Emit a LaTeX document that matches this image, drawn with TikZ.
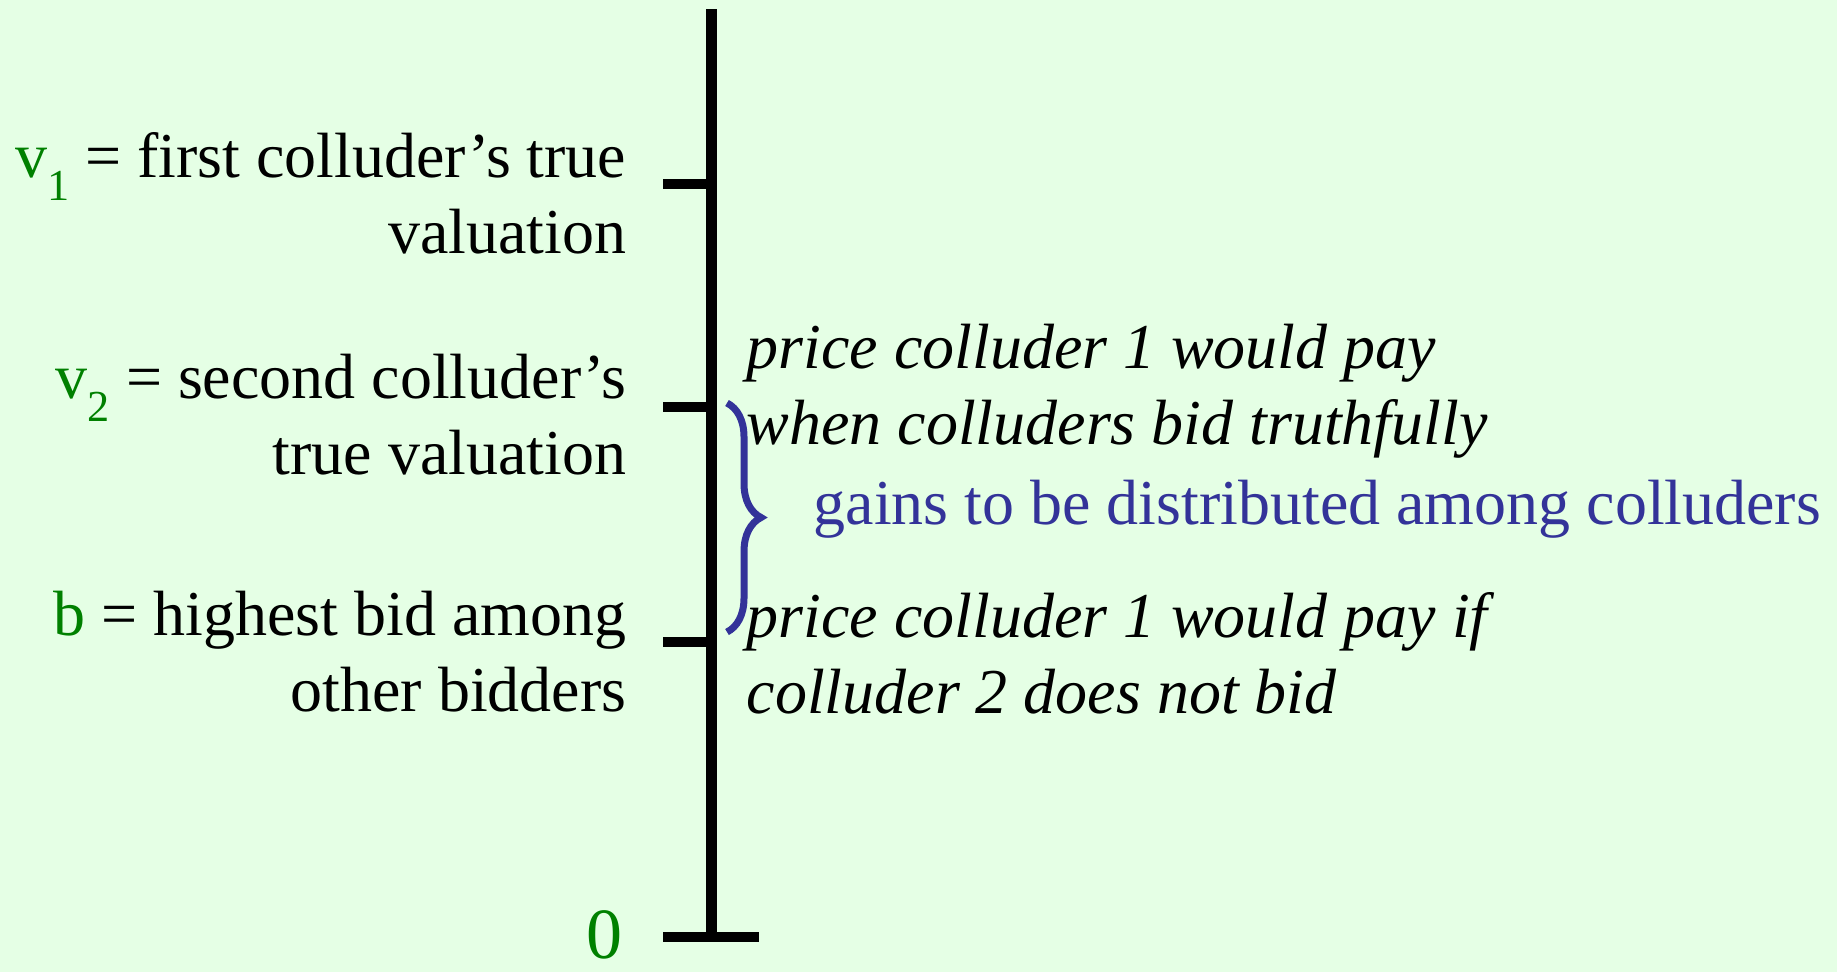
\documentclass[tikz,border=0pt]{standalone}
\usepackage{fontspec}
\setmainfont{Liberation Serif}
\usetikzlibrary{decorations.pathreplacing}
\definecolor{bgfill}{HTML}{E5FFE5}
\definecolor{valgreen}{HTML}{008000}
\definecolor{gainblue}{HTML}{333399}
\tikzset{
  axisline/.style={draw=black, line width=0.11cm},
  tickline/.style={draw=black, line width=0.10cm},
  lbl/.style={font=\fontsize{18.2}{21.6}\selectfont, inner sep=0pt, align=right, anchor=base east},
  ilbl/.style={font=\fontsize{18.2}{21.6}\selectfont\itshape, inner sep=0pt, align=left, anchor=base west},
  gainlbl/.style={font=\fontsize{18.2}{21.6}\selectfont, text=gainblue, inner sep=0pt, anchor=base west},
  zerolbl/.style={font=\fontsize{20.5}{24}\selectfont, text=valgreen, inner sep=0pt, text depth=0pt, anchor=base},
  brc/.style={draw=gainblue, line width=0.07cm, decorate, decoration={brace, amplitude=0.34cm}},
}
\newcommand{\gv}[1]{\textcolor{valgreen}{#1}}
\newcommand{\vsub}[1]{\gv{v\raisebox{-0.36em}{\fontsize{12.6}{13}\selectfont #1}}}

\begin{document}
\begin{tikzpicture}[x=1cm,y=1cm]
  \path[use as bounding box, fill=bgfill] (0,0) rectangle (18.37,-9.72);
  % value axis
  \coordinate (top) at (7.11,-0.09);
  \coordinate (bot) at (7.11,-9.37);
  \coordinate (t1) at (6.63,-1.84);
  \coordinate (t2) at (6.63,-4.065);
  \coordinate (tb) at (6.63,-6.42);
  \coordinate (t0) at (6.63,-9.37);
  \coordinate (t0r) at (7.59,-9.37);
  \draw[axisline] (top) -- (bot);
  \draw[tickline] (t1) -- (t1 -| top);
  \draw[tickline] (t2) -- (t2 -| top);
  \draw[tickline] (tb) -- (tb -| top);
  \draw[tickline] (t0) -- (t0r);
  % left labels (base = last line)
  \node[lbl] (v1) at (6.27,-2.53) {\vsub{1} = first colluder’s true\\valuation};
  \node[lbl] (v2) at (6.27,-4.74) {\vsub{2} = second colluder’s\\true valuation};
  \node[lbl] (bid) at (6.27,-7.11) {\gv{b} = highest bid among\\other bidders};
  \node[zerolbl] (zero) at (6.05,-9.58) {0};
  % right labels
  \node[ilbl] (pay) at (7.46,-4.44) {price colluder 1 would pay\\when colluders bid truthfully};
  \node[ilbl] (payif) at (7.46,-7.13) {price colluder 1 would pay if\\colluder 2 does not bid};
  \node[gainlbl] (gains) at (8.13,-5.24) {gains to be distributed among colluders};
  % brace
  \coordinate (bt) at (7.27,-4.03);
  \coordinate (bb) at (7.27,-6.32);
  \draw[brc] (bt) -- (bb);
\end{tikzpicture}
\end{document}
